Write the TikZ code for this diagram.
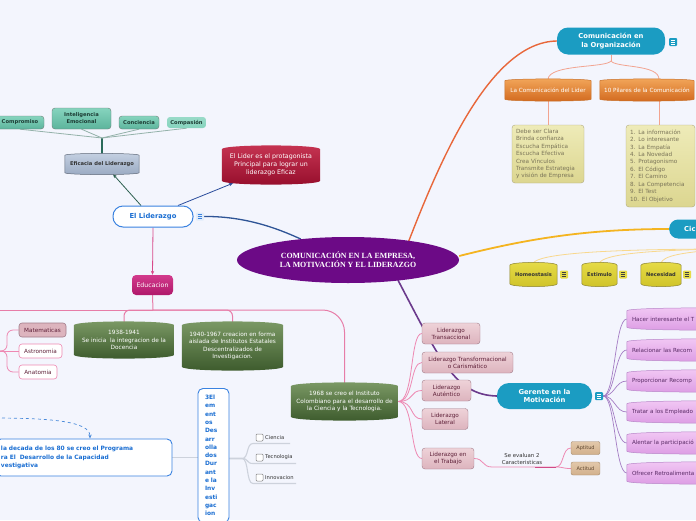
\documentclass[tikz,border=0pt]{standalone}
\usepackage{fontspec}
\setmainfont{DejaVu Sans}
\newfontfamily\cenfont{Liberation Serif}
\usetikzlibrary{arrows.meta,shapes.geometric}
\newcommand\fs[2]{\fontsize{#1}{#2}\selectfont}
\pgfdeclarelayer{bgl}\pgfdeclarelayer{edges}\pgfdeclarelayer{shapes}
\pgfsetlayers{bgl,edges,shapes,main}
\definecolor{cBg}{HTML}{F3F5FD}
\definecolor{cPurp}{HTML}{6C0A86}
\definecolor{cTeal}{HTML}{1B9CC2}
\definecolor{cOrT}{HTML}{F2A65A}\definecolor{cOrB}{HTML}{D2691E}\definecolor{cOrD}{HTML}{C8702A}
\definecolor{cKhT}{HTML}{EEEBB8}\definecolor{cKhBo}{HTML}{DCD690}\definecolor{cKhB}{HTML}{B0AA80}\definecolor{cKhTxt}{HTML}{7A7458}
\definecolor{cYeT}{HTML}{E6DC48}\definecolor{cYeB}{HTML}{CFC228}\definecolor{cYeD}{HTML}{8A8230}
\definecolor{cPiT}{HTML}{F2C8F4}\definecolor{cPiB}{HTML}{DC9CE4}\definecolor{cPiD}{HTML}{B886C8}\definecolor{cPiTxt}{HTML}{5A2A66}
\definecolor{cLiT}{HTML}{EED2D8}\definecolor{cLiB}{HTML}{DDB4BE}\definecolor{cLiD}{HTML}{A27C8A}\definecolor{cLiTxt}{HTML}{5E2038}
\definecolor{cTaT}{HTML}{E2C8AA}\definecolor{cTaB}{HTML}{D2B08C}\definecolor{cTaD}{HTML}{A48A6C}\definecolor{cTaTxt}{HTML}{5E4630}
\definecolor{cTgT}{HTML}{86D4BE}\definecolor{cTgB}{HTML}{5CB49C}\definecolor{cTgD}{HTML}{6E7E78}\definecolor{cTgTxt}{HTML}{1C3C34}
\definecolor{cEfT}{HTML}{C4D0E2}\definecolor{cEfB}{HTML}{9AAAC2}\definecolor{cEfD}{HTML}{5E6878}
\definecolor{cRedT}{HTML}{C63452}\definecolor{cRedB}{HTML}{960E2C}
\definecolor{cMagT}{HTML}{D23A8C}\definecolor{cMagB}{HTML}{B0186A}
\definecolor{cGrT}{HTML}{7C9A66}\definecolor{cGrB}{HTML}{3C5A2C}
\definecolor{cBlue}{HTML}{3A82E0}\definecolor{cBlueT}{HTML}{1A6ED2}
\definecolor{cOrL}{HTML}{E8673A}\definecolor{cSal}{HTML}{F2A490}\definecolor{cGold}{HTML}{F4B420}
\definecolor{cYl}{HTML}{F8D88E}\definecolor{cPurL}{HTML}{6B3A8C}\definecolor{cPilL}{HTML}{A47CC4}
\definecolor{cPkL}{HTML}{EE88B2}\definecolor{cBlL}{HTML}{2E5496}\definecolor{cGnA}{HTML}{2B5E4E}
\definecolor{cBlA}{HTML}{2A4C9C}\definecolor{cDkT}{HTML}{2A6A5A}\definecolor{cFan}{HTML}{94B2AA}
\definecolor{cPkA}{HTML}{D84A8A}\definecolor{cEdL}{HTML}{E77DA8}\definecolor{cGray}{HTML}{CDD2DC}
\definecolor{cDash}{HTML}{4A8ADA}\definecolor{cEvL}{HTML}{D04A86}\definecolor{cDark}{HTML}{333333}
\newcommand\barrel[3]{%
\begin{pgfonlayer}{shapes}
\path[rounded corners=1.5, #3] ([yshift=-#2]#1.north west) .. controls ([yshift=#2/3]#1.north west) and ([yshift=#2/3]#1.north east) .. ([yshift=-#2]#1.north east) -- ([yshift=#2]#1.south east) .. controls ([yshift=-#2/3]#1.south east) and ([yshift=-#2/3]#1.south west) .. ([yshift=#2]#1.south west) -- cycle;
\end{pgfonlayer}}
\newcommand\menuicon[4]{%
\node[fill=#3, rounded corners=1, minimum size=8, inner sep=0] (#1) at #2 {};
\foreach \dy in {-2,0,2}{\draw[#4, line width=0.6] ([xshift=-2.3,yshift=\dy]#1.center) -- ([xshift=2.3,yshift=\dy]#1.center);}}
\begin{document}
\begin{tikzpicture}[x=1pt,y=-1pt,
  every node/.style={inner sep=0pt, align=center},
  hdr/.style={fill=cTeal, rounded corners=11, text=white, font=\bfseries\fs{6.8}{8.5}},
  regtxt/.style={font=\fs{5.7}{7.5}},
  khaki/.style={draw=cKhB, top color=cKhT, bottom color=cKhBo, rounded corners=3, text=cKhTxt, font=\fs{5.7}{7.45}, align=left, inner xsep=4},
  yel/.style={font=\bfseries\fs{5.1}{7}, text=cDark, minimum height=23},
  pill/.style={font=\fs{5.6}{7}, text=cPiTxt, minimum width=140, minimum height=21, text width=130, align=left, inner xsep=5},
  lider/.style={draw=cLiD, top color=cLiT, bottom color=cLiB, rounded corners=3, text=cLiTxt, font=\fs{5.7}{7}, minimum height=21},
  tan/.style={draw=cTaD, top color=cTaT, bottom color=cTaB, rounded corners=2, text=cTaTxt, font=\fs{5}{6}, minimum width=29, minimum height=13},
  tealb/.style={draw=cTgD, top color=cTgT, bottom color=cTgB, rounded corners=3, text=cTgTxt, font=\bfseries\fs{5.2}{7}},
  green/.style={text=white, font=\fs{5.8}{7.4}},
  bluebox/.style={draw=cBlue, line width=0.9, fill=white, rounded corners=5, text=cBlueT},
  pinkbox/.style={draw=cPkL, line width=0.6, fill=white, rounded corners=3, text=cLiTxt, font=\fs{5.7}{7}, minimum height=14},
  chk/.style={draw=gray, line width=0.5, fill=white, rounded corners=1, minimum size=7},
  lbl/.style={font=\fs{5.2}{6.5}, text=cDark, anchor=west},
  arr/.style={-{Stealth[length=4pt,width=3.4pt]}, line width=0.8}
]
\begin{pgfonlayer}{bgl}
\fill[cBg] (0,0) rectangle (696,520);
\end{pgfonlayer}
\useasboundingbox (0,0) rectangle (696,520);

% ---------- centre
\node[ellipse, fill=cPurp, minimum width=222, minimum height=46, text=white, font=\cenfont\bfseries\fs{7.9}{9}] (cen) at (348,260) {COMUNICACIÓN EN LA EMPRESA,\\LA MOTIVACIÓN Y EL LIDERAZGO};

% ---------- comunicacion en la organizacion
\node[hdr, minimum width=108, minimum height=27] (corg) at (611,41) {Comunicación en\\la Organización};
\menuicon{icoA}{(673,42)}{cTeal}{white}
\node[regtxt, text=white, minimum width=86, minimum height=21] (lcl) at (548,90) {La Comunicación del Lider};
\barrel{lcl}{3}{draw=cOrD, line width=0.5, top color=cOrT, bottom color=cOrB}
\node[regtxt, text=white, minimum width=94, minimum height=21] (pil) at (647,90) {10 Pilares de la Comunicación};
\barrel{pil}{3}{draw=cOrD, line width=0.5, top color=cOrT, bottom color=cOrB}
\node[khaki, minimum width=72, minimum height=58, text width=64] (debe) at (548,154) {Debe ser Clara\\Brinda confianza\\Escucha Empática\\Escucha Efectiva\\Crea Vínculos\\Transmite Estrategia\\y visión de Empresa};
\node[khaki, minimum width=69, minimum height=82, text width=61] (lista) at (660.5,166) {1. La información\\2. Lo interesante\\3. La Empatía\\4. La Novedad\\5. Protagonismo\\6. El Código\\7. El Camino\\8. La Competencia\\9. El Test\\10. El Objetivo};

% ---------- ciclo
\node[fill=cTeal, rounded corners=9, minimum height=19, text width=30, inner xsep=15, align=left, anchor=west, text=white, font=\bfseries\fs{6.8}{8}] (cic) at (669,229) {Cic};
\node[yel, minimum width=47] (hom) at (533.5,274.5) {Homeostasis};
\barrel{hom}{4}{draw=cYeD, line width=0.5, top color=cYeT, bottom color=cYeB}
\node[yel, minimum width=35] (est) at (599.5,274.5) {Estimulo};
\barrel{est}{4}{draw=cYeD, line width=0.5, top color=cYeT, bottom color=cYeB}
\node[yel, minimum width=40] (nec) at (661,274.5) {Necesidad};
\barrel{nec}{4}{draw=cYeD, line width=0.5, top color=cYeT, bottom color=cYeB}
\menuicon{icoH}{(564,274.5)}{cYeT}{black!75}
\menuicon{icoE}{(623,274.5)}{cYeT}{black!75}
\menuicon{icoN}{(687,274.5)}{cYeT}{black!75}
\coordinate (cfan) at (730,249);

% ---------- gerente
\node[hdr, minimum width=95, minimum height=26, rounded corners=12] (ger) at (544.5,396) {Gerente en la\\Motivación};
\menuicon{icoG}{(599,396)}{cTeal}{white}
\node[pill] (p1) at (697,319) {Hacer interesante el T};
\node[pill] (p2) at (697,350) {Relacionar las Recom};
\node[pill] (p3) at (697,381) {Proporcionar Recomp};
\node[pill] (p4) at (697,412) {Tratar a los Empleado};
\node[pill] (p5) at (697,443) {Alentar la participació};
\node[pill] (p6) at (697,473) {Ofrecer Retroalimenta};
\foreach \p in {p1,p2,p3,p4,p5,p6}{\barrel{\p}{4}{draw=cPiD, line width=0.5, top color=cPiT, bottom color=cPiB}}

% ---------- liderazgo types
\node[lider, minimum width=58] (lt) at (451,333.5) {Liderazgo\\Transaccional};
\node[lider, minimum width=91] (ltf) at (467.5,362.5) {Liderazgo Transformacional\\o Carismático};
\node[lider, minimum width=49] (la) at (446.5,390.5) {Liderazgo\\Auténtico};
\node[lider, minimum width=46] (ll) at (445,419) {Liderazgo\\Lateral};
\node[lider, minimum width=52] (ltr) at (448,458.5) {Liderazgo en\\el Trabajo};
\node[font=\fs{5.4}{7}, text=cDark] (sev) at (522,458.5) {Se evaluan 2\\Caracteristicas};
\coordinate (evj) at (556,467);
\node[tan] (apt) at (585.5,448) {Aptitud};
\node[tan] (act) at (585.5,468.5) {Actitud};

% ---------- left: el liderazgo
\node[bluebox, line width=1, rounded corners=10, minimum width=80, minimum height=21, font=\bfseries\fs{6.8}{8}] (lid) at (153,216.5) {El Liderazgo};
\menuicon{icoL}{(200,216.5)}{cBlue!15}{cBlue}
\node[font=\bfseries\fs{5.2}{7}, text=cDark, minimum width=74, minimum height=20] (efi) at (102,164) {Eficacia del Liderazgo};
\barrel{efi}{3}{draw=cEfD, line width=0.5, top color=cEfT, bottom color=cEfB}
\coordinate (ej) at (102,138);
\node[tealb, minimum width=48, minimum height=13] (comp) at (20,122.5) {Compromiso};
\node[tealb, minimum width=59, minimum height=21] (ie) at (81.5,118.5) {Inteligencia\\Emocional};
\node[tealb, minimum width=40, minimum height=13] (conc) at (139,122.5) {Conciencia};
\node[tealb, draw=none, top color=cTgT!85!white, bottom color=cTgT, minimum width=39, minimum height=11] (compa) at (186.5,122.5) {Compasión};
\node[text=white, font=\fs{6.3}{8}, minimum width=98, minimum height=38] (prot) at (271,165) {El Lider es el protagonista\\Principal para lograr un\\liderazgo Eficaz};
\barrel{prot}{5}{top color=cRedT, bottom color=cRedB}

% ---------- educacion
\node[top color=cMagT, bottom color=cMagB, rounded corners=4, text=white, font=\fs{6.2}{8}, minimum width=41, minimum height=20] (edu) at (152.5,285) {Educacion};
\coordinate (ej2) at (153,310);
\coordinate (edl) at (-10,310);
\node[green, minimum width=100, minimum height=36] (t38) at (124,340) {1938-1941\\Se inicia\ \ la integracion de la\\Docencia};
\barrel{t38}{5}{top color=cGrT, bottom color=cGrB}
\node[green, minimum width=101, minimum height=48] (t40) at (232.5,346) {1940-1967 creacion en forma\\aislada de Institutos Estatales\\Descentralizados de\\Investigacion.};
\barrel{t40}{5}{top color=cGrT, bottom color=cGrB}
\node[green, minimum width=107, minimum height=37] (t68) at (344.5,401.5) {1968 se creo el Instituto\\Colombiano para el desarrollo de\\la Ciencia y la Tecnologia.};
\barrel{t68}{5}{top color=cGrT, bottom color=cGrB}
\coordinate (msrc) at (-10,351);
\node[pinkbox, draw=cLiD, fill=cLiB, minimum width=47] (mat) at (42.5,330) {Matematicas};
\node[pinkbox, minimum width=43] (ast) at (40.5,351) {Astronomia};
\node[pinkbox, minimum width=38] (ana) at (38,372) {Anatomia};

% ---------- bottom left
\node[bluebox, anchor=north, minimum width=31, minimum height=134, text width=17, inner xsep=7, align=left, font=\bfseries\fs{5.9}{8.3}] (el3) at (213.5,388) {3El\\em\\ent\\os\\Des\\arr\\olla\\dos\\Dur\\ant\\e la\\Inv\\esti\\gac\\ion};
\node[bluebox, minimum width=176, minimum height=37, text width=166, inner xsep=5, align=left, font=\bfseries\fs{5.9}{8.3}] (dec) at (84,457.5) {la decada de los 80 se creo el Programa\\ra El\ \ Desarrollo de la Capacidad\\vestigativa};
\coordinate (dsrc) at (-10,418);
\node[chk] (k1) at (259.5,437.5) {};
\node[lbl] (cien) at (265,437.5) {Ciencia};
\node[chk] (k2) at (259.5,457.5) {};
\node[lbl] (tecn) at (265,457.5) {Tecnologia};
\node[chk] (k3) at (259.5,477.5) {};
\node[lbl] (inno) at (265,477.5) {Innovacion};
\coordinate (u1) at (253,443.5) ; \coordinate (u1e) at (290,443.5);
\coordinate (u2) at (253,463.5) ; \coordinate (u2e) at (296,463.5);
\coordinate (u3) at (253,483.5) ; \coordinate (u3e) at (296,483.5);

% ================= connectors
\begin{pgfonlayer}{edges}
\draw[cOrL, line width=1.4] ([xshift=-20,yshift=-3]cen.north east) .. controls (440,160) and (490,42) .. (corg.west);
\coordinate (cj) at (611,61);
\draw[cSal, line width=0.8] (corg.south) -- (cj);
\draw[cSal, line width=0.8] (cj) .. controls (606,68) and (549,64) .. (lcl.north);
\draw[cSal, line width=0.8] (cj) .. controls (616,68) and (659,64) .. ([xshift=12]pil.north);
\draw[cSal, line width=0.8] (lcl.south) -- (debe.north);
\draw[cSal, line width=0.8] ([xshift=12]pil.south) -- ([xshift=-1.5]lista.north);
\draw[cGold, line width=1.8] ([yshift=4]cen.east) .. controls (530,238) and (590,229) .. (cic.west);
\draw[cYl, line width=0.8] (hom.north) .. controls (540,254) and (600,249) .. (cfan);
\draw[cYl, line width=0.8] (est.north) .. controls (604,255) and (640,250) .. (cfan);
\draw[cYl, line width=0.8] (nec.north) .. controls (664,256) and (680,252) .. (cfan);
\draw[cPurL, line width=1.6] ([xshift=50,yshift=3]cen.south) .. controls (440,360) and (455,395) .. (ger.west);
\foreach \p in {p1,p2,p3,p4,p5,p6}{\draw[cPilL, line width=0.7] (icoG.east) .. controls +(12,0) and +(-12,0) .. (\p.west);}
\foreach \n in {lt,ltf,la,ll,ltr}{\draw[cPkL, line width=0.8] (t68.east) .. controls +(16,0) and +(-12,0) .. (\n.west);}
\draw[cPkL, line width=0.8] (ltr.east) .. controls (484,458.5) and (482,467) .. (492,467) -- (evj);
\draw[cEvL, line width=0.8] (535,467) -- (evj);
\draw[cPkL, line width=0.8] (evj) .. controls (564,467) and (562,448) .. (apt.west);
\draw[cPkL, line width=0.8] (evj) .. controls (564,467) and (562,468.5) .. (act.west);
% left
\draw[cBlL, line width=1.3] (icoL.east) .. controls (250,216) and (285,232) .. (cen);
\draw[cGnA, arr] ([xshift=-12]lid.north) -- ([xshift=11]efi.south);
\draw[cBlA, arr] ([xshift=25]lid.north) -- ([xshift=-38,yshift=1]prot.south);
\draw[cDkT, line width=1.3] (efi.north) -- (ej);
\foreach \n in {comp,ie,conc,compa}{\draw[cFan, line width=0.8] (ej) -- (\n.south);}
\draw[cPkA, arr] (lid.south) -- (edu.north);
\draw[cEdL, line width=1] (edu.south) -- (ej2);
\draw[cEdL, line width=1] (ej2) -- (edl);
\draw[cEdL, line width=1, rounded corners=6] (ej2) -- (124,310) -- (t38.north);
\draw[cEdL, line width=1, rounded corners=6] (ej2) -- (232.5,310) -- (t40.north);
\draw[cEdL, line width=1, rounded corners=22] (ej2) -- (344.5,310) -- (t68.north);
\draw[cPkL, line width=0.8] (msrc) -- (ast.west);
\draw[cPkL, line width=0.8, rounded corners=6] (msrc) -- (7,351) -- (7,330) -- (mat.west);
\draw[cPkL, line width=0.8, rounded corners=6] (msrc) -- (7,351) -- (7,372) -- (ana.west);
% bottom left
\draw[cGray, line width=1.5] (dec.east) -- (dec.east -| el3.west);
\draw[cGray, line width=1.1] ([yshift=-3]el3.east) -- (242,458.5) .. controls (249,458.5) and (246,443.5) .. (u1) -- (u1e);
\draw[cGray, line width=1.1] ([yshift=-3]el3.east) -- (242,458.5) .. controls (249,458.5) and (246,463.5) .. (u2) -- (u2e);
\draw[cGray, line width=1.1] ([yshift=-3]el3.east) -- (242,458.5) .. controls (249,458.5) and (246,483.5) .. (u3) -- (u3e);
\draw[cDash, line width=0.7, dashed, -{Stealth[length=4pt,width=3.4pt]}] (dsrc) .. controls (50,418) and (90,421) .. ([xshift=6]dec.north);
\end{pgfonlayer}
\end{tikzpicture}
\end{document}
